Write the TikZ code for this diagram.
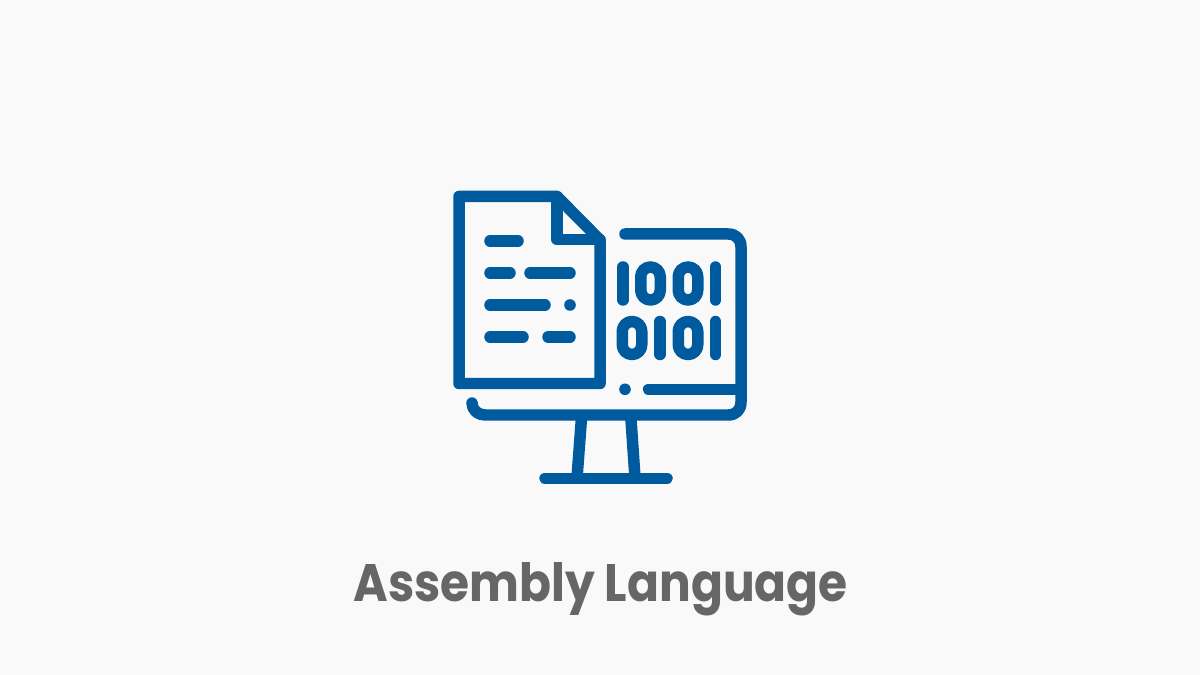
\documentclass[tikz,border=0pt]{standalone}
\usepackage{fontspec}
\setmainfont{Poppins}
\definecolor{iconblue}{RGB}{0,90,158}
\definecolor{titlegray}{RGB}{102,102,102}
\definecolor{pagegray}{RGB}{249,249,249}
\tikzset{
  iconline/.style={draw=iconblue,line width=0.23cm,line cap=round,line join=round},
}
\begin{document}
\begin{tikzpicture}[x=0.02cm,y=-0.02cm]
\fill[pagegray] (0,0) rectangle (1200,675);
\useasboundingbox (0,0) rectangle (1200,675);
% 文档
\draw[iconline] (557,196.5) -- (459,196.5) -- (459,383.5) -- (600,383.5) -- (600,240) -- cycle;
\draw[iconline] (557,196.5) -- (557,239.5) -- (600,239.5);
\foreach \a/\b/\r in {490/518/241, 490/510/273, 530/570/273, 490/545/305, 490/523/337, 548/570/337}
  \draw[iconline] (\a,\r) -- (\b,\r);
\fill[iconblue] (570,305) circle (5.8);
% 显示器
\draw[iconline] (472,403) .. controls (472,410) and (478,415) .. (485,415) -- (728,415) .. controls (736,415) and (741,410) .. (741,402) -- (741,247) .. controls (741,239) and (736,234) .. (728,234) -- (625,234);
\draw[iconline] (648.5,389.3) -- (741,389.3);
\fill[iconblue] (625,389.3) circle (5.8);
\draw[iconline,line cap=butt] (581.7,415) -- (577,478);
\draw[iconline,line cap=butt] (630.7,415) -- (635,478);
\draw[iconline] (545,478.3) -- (667,478.3);
% 二进制
\foreach \c/\r in {623/267, 715.5/267, 660/321.5, 715.5/321.5}
  \draw[iconline] (\c,\r) -- (\c,\r+33);
\foreach \c/\r in {650.5/267, 688/267, 632/321.5, 688/321.5}
  \draw[iconline,rounded corners=0.195cm] (\c-9.75,\r) rectangle (\c+9.75,\r+33);
% 标题
\node[text=titlegray,font=\fontsize{30}{36}\selectfont\bfseries,anchor=base,xscale=0.893,transform shape] (title) at (600.5,601.7) {Assembly Language};
\end{tikzpicture}
\end{document}
